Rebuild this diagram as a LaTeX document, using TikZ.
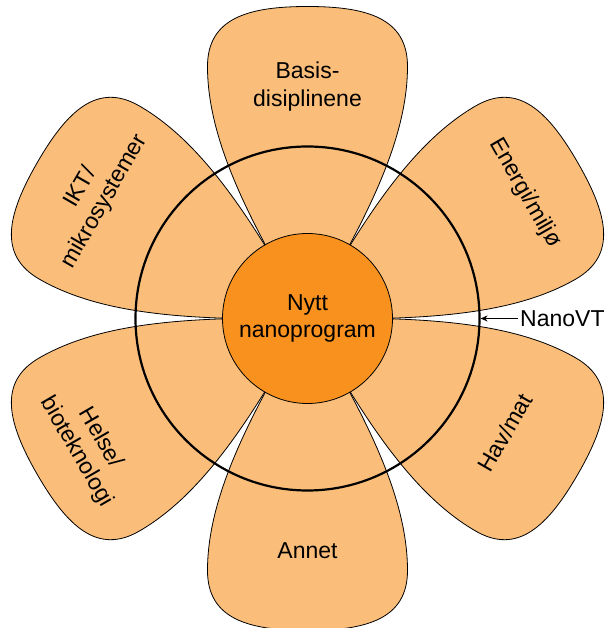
\documentclass[tikz,border=0pt]{standalone}
\usepackage{fontspec}
\setmainfont{Liberation Sans}
\usetikzlibrary{arrows.meta}
\definecolor{petalfill}{RGB}{251,190,122}
\definecolor{hubfill}{RGB}{248,145,30}

\begin{document}
\begin{tikzpicture}[x=1pt,y=1pt,
 petal/.style={draw=black,line width=0.8pt,fill=petalfill},
 hub/.style={circle,draw=black,line width=0.8pt,fill=hubfill,minimum size=170pt},
 ring/.style={circle,draw=black,line width=2.2pt,minimum size=344pt,inner sep=0pt},
 lbl/.style={align=center,inner sep=2pt,font=\fontsize{23}{27.5}\selectfont}]
\useasboundingbox (-307.5,-309.5) rectangle (299.5,318.5);
% six petals round the hub
\foreach \a in {30,90,...,330}
 \draw[petal,rotate=\a-90] (0,0) .. controls (-60,100) and (-100,180) .. (-100,252)
  .. controls (-100,300) and (-60,312) .. (0,312)
  .. controls (60,312) and (100,300) .. (100,252)
  .. controls (100,180) and (60,100) .. (0,0) -- cycle;
\node[ring] (ring) at (0,0) {};
\node[hub,lbl] (hub) at (0,0) {Nytt\\nanoprogram};
\node[lbl] (basis) at (90:232) {Basis-\\disiplinene};
\node[lbl,rotate=-60] (energi) at (30:251) {Energi/miljø};
\node[lbl,rotate=60] (hav) at (-30:228) {Hav/mat};
\node[lbl] (annet) at (-90:232) {Annet};
\node[lbl,rotate=-60] (helse) at (210:253) {Helse/\\bioteknologi};
\node[lbl,rotate=60] (ikt) at (150:248) {IKT/\\mikrosystemer};
\node[lbl,anchor=west] (nanovt) at (210.5,0) {NanoVT};
\draw[-{Stealth[length=7pt,width=6pt]},line width=0.8pt] (nanovt.west) -- (ring.east);
\end{tikzpicture}
\end{document}
